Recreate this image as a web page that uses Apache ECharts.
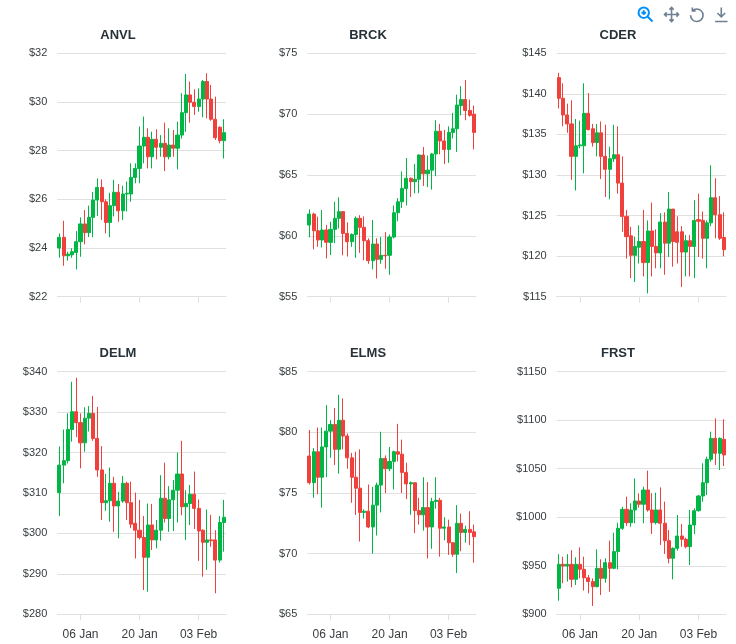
<!DOCTYPE html>
<html lang="en">
<head>
    <meta charset="UTF-8">
    <title>Stock candlesticks</title>
    <script src="https://cdn.jsdelivr.net/npm/echarts/dist/echarts.min.js"></script>
    <style>
        body { margin: 0; background: #fff; }
        #main { width: 736px; height: 644px; }
    </style>
</head>
<body>
    <div id="main"></div>
    <script>
        // dates, one candle a day
        const dates = [
            '01 Jan', '02 Jan', '03 Jan', '04 Jan', '05 Jan', '06 Jan', '07 Jan', '08 Jan', '09 Jan', '10 Jan',
            '11 Jan', '12 Jan', '13 Jan', '14 Jan', '15 Jan', '16 Jan', '17 Jan', '18 Jan', '19 Jan', '20 Jan',
            '21 Jan', '22 Jan', '23 Jan', '24 Jan', '25 Jan', '26 Jan', '27 Jan', '28 Jan', '29 Jan', '30 Jan',
            '31 Jan', '01 Feb', '02 Feb', '03 Feb', '04 Feb', '05 Feb', '06 Feb', '07 Feb', '08 Feb', '09 Feb'
        ];
        const tickLabels = ['06 Jan', '20 Jan', '03 Feb'];

        // [open, close, low, high]
        const anvl = [
            [24.0, 24.44, 23.6, 24.6], [24.44, 23.68, 23.27, 25.12], [23.68, 23.75, 23.48, 23.85], [23.72, 23.85, 23.6, 23.99],
            [23.82, 24.26, 23.12, 24.7], [24.26, 24.99, 23.64, 25.26], [24.99, 24.63, 24.15, 25.56], [24.63, 25.26, 24.45, 25.74],
            [25.26, 25.97, 24.44, 26.3], [25.97, 26.49, 25.32, 26.86], [26.49, 25.9, 25.15, 26.82], [25.9, 25.05, 24.6, 26.0],
            [25.05, 25.74, 24.44, 26.27], [25.74, 26.29, 25.3, 26.8], [26.29, 25.53, 25.08, 26.63], [25.53, 26.22, 25.15, 26.56],
            [26.22, 26.25, 25.5, 26.73], [26.22, 26.9, 25.9, 27.48], [26.9, 27.27, 26.66, 27.48], [27.27, 28.19, 26.66, 28.99],
            [28.19, 28.55, 27.48, 29.4], [28.55, 27.75, 27.27, 28.92], [27.75, 28.47, 27.27, 28.78], [28.47, 28.14, 27.64, 28.88],
            [28.14, 28.3, 27.75, 28.64], [28.3, 27.75, 27.16, 29.15], [27.75, 28.23, 27.64, 28.92], [28.23, 28.1, 27.75, 28.85],
            [28.1, 28.64, 27.23, 29.19], [28.64, 29.56, 28.5, 30.36], [29.56, 30.29, 28.78, 31.15], [30.29, 29.99, 29.15, 30.84],
            [29.99, 29.81, 29.47, 30.52], [29.81, 30.12, 29.6, 30.56], [30.12, 30.84, 29.37, 30.9], [30.84, 30.12, 29.33, 31.18],
            [30.12, 29.29, 29.23, 30.7], [29.29, 28.53, 28.44, 30.22], [28.96, 28.41, 28.3, 29.0], [28.41, 28.74, 27.68, 29.29]
        ];
        const brck = [
            [60.89, 61.79, 59.88, 62.18], [61.79, 60.42, 58.89, 61.9], [60.42, 59.66, 59.1, 61.58], [59.66, 60.48, 59.05, 62.12],
            [60.48, 59.47, 58.15, 60.9], [59.47, 60.53, 58.42, 61.16], [60.53, 61.44, 59.4, 62.8], [61.44, 61.99, 60.6, 63.16],
            [61.99, 60.2, 58.4, 62.0], [60.2, 59.52, 58.3, 61.1], [59.52, 60.12, 59.1, 60.2], [60.12, 61.44, 58.2, 61.6],
            [61.44, 60.7, 58.6, 61.7], [60.7, 59.6, 58.0, 61.6], [59.6, 57.96, 57.7, 59.8], [57.96, 59.33, 57.25, 61.3],
            [59.33, 58.07, 56.5, 59.8], [58.07, 58.4, 57.7, 59.9], [58.4, 58.36, 57.3, 60.3], [58.4, 59.9, 56.8, 60.1],
            [59.9, 61.9, 59.8, 62.5], [61.9, 62.8, 61.2, 63.1], [62.8, 63.9, 62.3, 65.3], [63.9, 64.73, 62.5, 66.4],
            [64.73, 64.45, 63.2, 64.8], [64.45, 64.65, 63.5, 65.9], [64.65, 66.64, 63.5, 66.7], [66.64, 65.1, 64.1, 67.3],
            [65.1, 65.4, 64.0, 66.6], [65.4, 66.73, 63.8, 66.8], [66.73, 68.6, 64.9, 69.5], [68.6, 67.8, 66.7, 69.2],
            [67.8, 67.1, 65.9, 68.7], [67.1, 68.5, 66.0, 69.0], [68.5, 68.8, 68.0, 70.1], [68.8, 70.75, 66.9, 71.6],
            [70.7, 71.2, 69.9, 72.3], [71.2, 70.3, 69.5, 72.8], [70.3, 69.9, 69.8, 71.2], [70.0, 68.5, 67.1, 70.7]
        ];
        const cder = [
            [142.0, 139.45, 138.2, 142.6], [139.45, 137.4, 136.0, 141.3], [137.4, 136.3, 135.2, 138.8], [136.3, 132.3, 129.4, 139.2],
            [132.3, 133.6, 128.1, 136.9], [133.6, 133.7, 133.3, 136.7], [133.6, 137.6, 130.2, 141.3], [137.6, 135.6, 135.5, 140.1],
            [135.7, 134.0, 133.5, 136.3], [134.0, 135.2, 132.3, 136.3], [135.2, 132.3, 129.5, 136.6], [132.3, 130.7, 127.3, 136.2],
            [130.7, 132.0, 127.0, 133.5], [132.0, 132.5, 131.6, 136.2], [132.5, 129.0, 127.7, 136.0], [129.0, 124.9, 123.0, 132.3],
            [124.9, 122.4, 119.7, 125.7], [122.5, 120.1, 117.3, 123.6], [120.1, 121.2, 116.8, 122.4], [121.1, 121.8, 119.1, 123.8],
            [121.8, 119.2, 117.5, 125.7], [119.2, 123.1, 115.4, 124.4], [123.1, 121.2, 117.5, 126.6], [121.2, 120.4, 118.5, 123.3],
            [120.4, 124.2, 118.5, 125.3], [124.2, 121.6, 117.7, 125.4], [121.6, 125.8, 119.9, 127.9], [125.8, 121.8, 118.7, 125.8],
            [123.0, 121.7, 119.1, 124.9], [123.0, 120.5, 116.2, 123.7], [120.5, 121.9, 117.5, 122.6], [121.9, 121.2, 117.5, 122.6],
            [121.2, 124.4, 117.3, 126.9], [124.5, 124.3, 119.9, 127.7], [124.4, 122.2, 119.7, 125.5], [122.2, 124.1, 118.5, 124.4],
            [124.1, 127.2, 123.7, 131.2], [127.2, 125.1, 122.2, 129.6], [125.1, 122.2, 122.0, 127.4], [122.3, 120.8, 120.0, 125.4]
        ];
        const delm = [
            [310.1, 316.9, 304.3, 321.5], [316.9, 318.0, 312.4, 325.7], [318.0, 325.7, 317.3, 329.7], [325.7, 330.1, 322.7, 337.5],
            [330.1, 327.4, 323.8, 338.5], [327.4, 322.4, 316.1, 329.7], [322.4, 328.5, 320.2, 331.2], [328.5, 329.7, 325.2, 331.5],
            [329.7, 323.5, 322.9, 334.0], [323.5, 315.7, 314.0, 331.3], [315.7, 307.6, 303.3, 321.6], [307.6, 308.1, 305.6, 314.7],
            [308.1, 312.4, 302.9, 316.3], [312.4, 306.8, 300.4, 314.0], [306.8, 308.0, 298.8, 310.3], [308.0, 312.4, 307.6, 314.2],
            [312.4, 307.6, 303.3, 312.8], [307.6, 302.3, 301.3, 312.8], [302.5, 300.8, 293.8, 310.1], [300.8, 299.0, 298.5, 308.3],
            [299.0, 294.1, 286.0, 304.3], [294.1, 302.1, 285.6, 307.4], [302.1, 298.4, 295.9, 307.3], [298.4, 300.8, 296.3, 303.3],
            [300.8, 308.7, 298.2, 314.4], [308.7, 303.7, 302.7, 317.5], [303.7, 308.3, 300.4, 311.7], [308.3, 310.7, 300.6, 313.2],
            [310.7, 314.7, 302.7, 320.0], [314.7, 306.6, 304.5, 322.9], [306.6, 307.4, 298.4, 310.7], [307.4, 309.7, 302.1, 312.0],
            [309.7, 306.2, 301.1, 315.3], [306.2, 300.6, 293.2, 308.4], [300.8, 297.8, 289.3, 301.0], [297.8, 298.4, 291.0, 305.9],
            [298.4, 298.2, 296.7, 304.6], [298.4, 293.4, 285.2, 300.8], [293.4, 302.7, 292.8, 304.3], [302.7, 304.0, 295.5, 308.3]
        ];
        const elms = [
            [78.05, 75.85, 75.7, 80.2], [75.85, 78.4, 74.6, 78.7], [78.4, 76.3, 74.9, 80.4], [76.3, 78.8, 73.8, 80.4],
            [78.8, 80.1, 76.3, 82.25], [80.1, 80.65, 77.9, 81.0], [80.65, 78.6, 77.3, 82.0], [78.6, 81.0, 76.6, 83.1],
            [81.0, 79.7, 78.6, 82.8], [79.7, 77.9, 77.0, 79.9], [77.9, 76.3, 74.2, 78.3], [76.3, 75.4, 73.2, 78.4],
            [75.4, 73.4, 71.0, 78.6], [73.4, 73.5, 72.9, 73.65], [73.5, 72.2, 72.1, 75.7], [72.2, 74.0, 70.0, 75.5],
            [74.0, 75.65, 71.5, 75.85], [75.65, 77.85, 73.4, 80.05], [77.85, 77.0, 75.0, 78.1], [77.0, 77.6, 76.8, 78.8],
            [77.6, 78.4, 75.3, 78.5], [78.4, 78.2, 77.6, 80.7], [78.2, 76.7, 75.0, 79.4], [76.7, 75.75, 74.5, 77.5],
            [75.75, 75.85, 73.2, 75.95], [75.85, 73.55, 71.7, 75.9], [73.55, 73.2, 72.4, 74.6], [73.2, 73.8, 71.9, 76.3],
            [73.8, 72.2, 69.6, 75.9], [72.2, 74.3, 70.4, 74.6], [74.3, 74.4, 73.7, 76.3], [74.4, 72.1, 69.75, 74.6],
            [72.1, 72.2, 71.1, 73.0], [72.2, 70.9, 69.9, 72.8], [70.9, 69.95, 69.75, 70.95], [69.95, 72.5, 68.4, 74.0],
            [72.5, 71.75, 70.2, 73.3], [71.75, 72.0, 70.9, 72.3], [72.0, 71.75, 70.7, 73.5], [71.8, 71.4, 69.25, 72.4]
        ];
        const frst = [
            [926.8, 951.5, 914, 962], [951.5, 949.8, 932, 959.4], [949.8, 951.5, 933.7, 962], [951.5, 936.1, 927.8, 966],
            [936.1, 951.5, 930.2, 958.7], [951.5, 946.4, 937, 969], [946.4, 937.6, 924.4, 959.4], [937.6, 933.7, 921.6, 940.5],
            [933.7, 928.5, 908.6, 937], [928.5, 947.4, 927.8, 967], [947.4, 937.1, 919.9, 956.7], [937.1, 953.2, 932.6, 957.7],
            [953.2, 947.4, 923.3, 975.9], [947.4, 964.6, 946.4, 984.1], [964.6, 988.6, 946.4, 994.4], [988.6, 1008.2, 987, 1010.9],
            [1008.2, 994.4, 991, 1021.2], [994.4, 1007.5, 990.3, 1014.4], [1007.5, 1016.8, 993.8, 1040], [1016.8, 1013.4, 1009.9, 1024.7],
            [1013.4, 1028.1, 993.8, 1031.5], [1028.1, 1007.5, 1005.8, 1048], [1007.5, 994.5, 982.8, 1024.7], [994.5, 1007.5, 992.7, 1025.3],
            [1007.5, 993.8, 971.4, 1030.8], [993.8, 975.9, 962.2, 1016.1], [975.9, 957.7, 952.5, 986.8], [957.7, 968.0, 936, 969],
            [968.0, 980.7, 965.6, 1002.3], [980.7, 977.3, 969.7, 993], [977.3, 969.7, 968, 979], [969.7, 992, 950.8, 1007.5],
            [992, 1006.8, 982.8, 1009.2], [1006.8, 1021.9, 1005.8, 1023], [1021.9, 1035.6, 1016, 1055.6], [1035.6, 1059.7, 1022.9, 1062.4],
            [1059.7, 1081.3, 1057.3, 1088.2], [1081.3, 1065.9, 1053.8, 1101.9], [1065.9, 1081.3, 1048.7, 1082.3], [1080.3, 1064.2, 1052.8, 1100.9]
        ];

        const names = ['ANVL', 'BRCK', 'CDER', 'DELM', 'ELMS', 'FRST'];
        const series_data = [anvl, brck, cder, delm, elms, frst];
        // y axis [min, max, step]
        const yRanges = [[22, 32, 2], [55, 75, 5], [115, 145, 5], [280, 340, 10], [65, 85, 5], [900, 1150, 50]];

        // panel layout (pixels)
        const colLeft = [57.3, 307.3, 556.7];
        const colWidth = [168.7, 168.7, 169.3];
        const rowTop = [53.3, 371.7];
        const rowHeight = [243.4, 242.6];
        const titleX = [118, 368, 618];
        const titleY = [29, 347];

        const FONT = 'Helvetica, Arial, sans-serif';
        const UP = '#00B746', DOWN = '#EF403C';

        var grids = [], xAxes = [], yAxes = [], titles = [], series = [];
        names.forEach(function (name, i) {
            var r = Math.floor(i / 3), c = i % 3;
            grids.push({ left: colLeft[c], top: rowTop[r], width: colWidth[c], height: rowHeight[r] });
            titles.push({
                text: name, left: titleX[c], top: titleY[r], textAlign: 'center', padding: 0,
                textStyle: { fontSize: 13, fontWeight: 'bold', color: '#263238', fontFamily: FONT }
            });
            xAxes.push({
                type: 'category', gridIndex: i, data: dates, boundaryGap: true,
                axisLine: { show: true, lineStyle: { color: '#e0e0e0' } },
                axisTick: {
                    show: true, alignWithLabel: true, length: 6, lineStyle: { color: '#e0e0e0' },
                    interval: function (idx, val) { return tickLabels.indexOf(val) >= 0; }
                },
                axisLabel: {
                    show: r === 1, color: '#373d3f', fontSize: 12, fontFamily: FONT, margin: 14,
                    interval: function (idx, val) { return tickLabels.indexOf(val) >= 0; }
                },
                splitLine: { show: false }
            });
            yAxes.push({
                type: 'value', gridIndex: i, min: yRanges[i][0], max: yRanges[i][1], interval: yRanges[i][2],
                axisLine: { show: false }, axisTick: { show: false },
                axisLabel: {
                    color: '#373d3f', fontSize: 11, fontFamily: FONT, margin: 10,
                    formatter: function (v) { return '$' + v; }
                },
                splitLine: { lineStyle: { color: '#e0e0e0', width: 1 } }
            });
            series.push({
                name: name, type: 'candlestick', xAxisIndex: i, yAxisIndex: i,
                data: series_data[i], barWidth: '85%',
                itemStyle: { color: UP, color0: DOWN, borderColor: UP, borderColor0: DOWN, borderColorDoji: UP, borderWidth: 1 }
            });
        });

        var chart = echarts.init(document.getElementById('main'));
        chart.setOption({
            animation: false,
            backgroundColor: '#fff',
            title: titles,
            toolbox: {
                show: true, right: 6, top: 5, padding: 0, itemSize: 14, itemGap: 7,
                iconStyle: { color: 'none', borderColor: '#6E8192', borderWidth: 1.6 },
                feature: {
                    myZoom: {
                        show: true, title: 'Zoom In', onclick: function () {},
                        icon: 'path://M3.5 10a6.5 6.5 0 1 0 13 0a6.5 6.5 0 1 0 -13 0M15 15L21 21M10 7v6M7 10h6',
                        iconStyle: { borderColor: '#008FFB', borderWidth: 2 }
                    },
                    myPan: {
                        show: true, title: 'Panning', onclick: function () {},
                        icon: 'path://M12 2v20M2 12h20M9 5l3-3 3 3M9 19l3 3 3-3M5 9l-3 3 3 3M19 9l3 3-3 3'
                    },
                    myReset: {
                        show: true, title: 'Reset Zoom', onclick: function () {},
                        icon: 'path://M6.3 6.3A8 8 0 1 1 4 12M6.3 2v4.3h4.3'
                    },
                    myMenu: {
                        show: true, title: 'Menu', onclick: function () {},
                        icon: 'path://M12 3v12M7 10l5 5 5-5M4 21h16'
                    }
                }
            },
            grid: grids,
            xAxis: xAxes,
            yAxis: yAxes,
            series: series
        });
    </script>
</body>
</html>
